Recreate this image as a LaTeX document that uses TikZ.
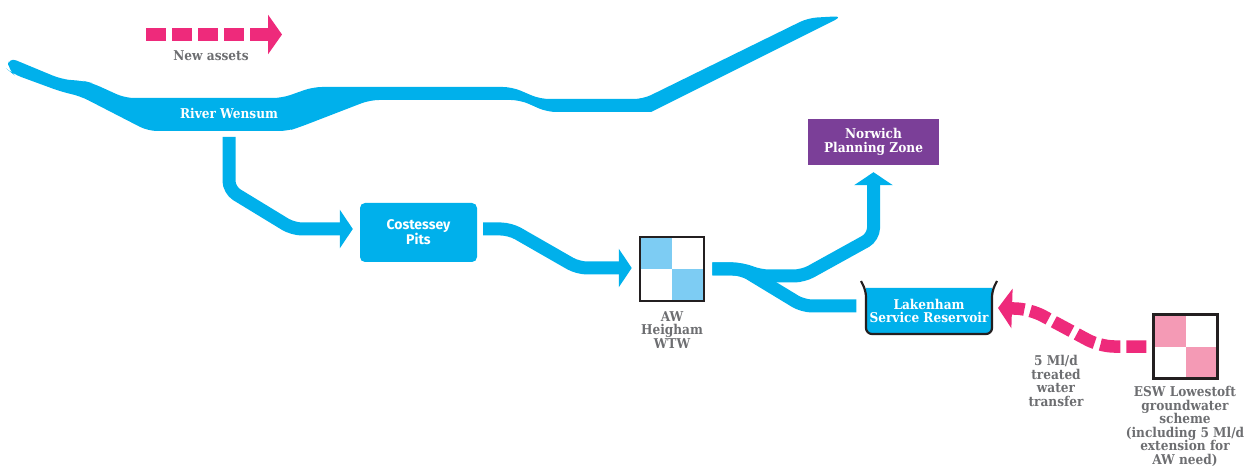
\documentclass[tikz,border=0pt]{standalone}
\usepackage{fontspec}
\setmainfont{DejaVu Serif}[FakeStretch=0.9]
\newfontfamily\sansf{Fira Sans}
\usetikzlibrary{arrows.meta}
\definecolor{wblue}{HTML}{00B0EB}
\definecolor{lblue}{HTML}{7DCCF3}
\definecolor{npurple}{HTML}{7B3F98}
\definecolor{npink}{HTML}{EE2A7B}
\definecolor{lpink}{HTML}{F49AB5}
\definecolor{tgray}{HTML}{6D6E71}
\definecolor{kline}{HTML}{231F20}
\begin{document}
\begin{tikzpicture}[x=1pt,y=-1pt,
 lab/.style={font=\bfseries\fontsize{13.5}{13.6}\selectfont, align=center, inner sep=0pt},
 wlab/.style={lab, text=white},
 glab/.style={lab, text=tgray},
 flow/.style={draw=wblue, line width=13pt, rounded corners=9pt, -{Triangle[width=38pt,length=13pt]}},
 pipe/.style={draw=wblue, line width=13pt, rounded corners=9pt},
 newasset/.style={draw=npink, line width=12.5pt, dash pattern=on 20pt off 6pt, rounded corners=14pt, -{Triangle[width=39pt,length=14pt]}},
 wtw/.style={minimum size=64pt, inner sep=0pt, draw=kline, line width=2.5pt,
   path picture={\fill[#1] (path picture bounding box.north west) rectangle (path picture bounding box.center);
                 \fill[#1] (path picture bounding box.center) rectangle (path picture bounding box.south east);}},
 pitbox/.style={fill=wblue, rounded corners=5pt, minimum width=117pt, minimum height=59pt, inner sep=0pt, text=white, align=center, font=\sansf\bfseries\fontsize{14}{15}\selectfont},
 zonebox/.style={fill=npurple, minimum width=131pt, minimum height=46pt, inner sep=0pt, wlab}
]
\useasboundingbox (0,0) rectangle (1245,470);

% River
\fill[wblue, rounded corners=9pt] (8,57) -- (61,79) -- (70,80) -- (84,81) -- (92,83) -- (125,98) -- (282,98) -- (313,87) -- (512,87) -- (540,99) -- (643,99) -- (808,18) -- (843,16) [sharp corners] -- (651,112) [rounded corners=9pt] -- (547,112) -- (520,100) -- (370,100) -- (300,127) -- (288,131) -- (148,131) -- (80,96) -- (62,92) -- (13,74) -- (8,70) -- cycle;
\node[wlab, anchor=base] (rw) at (229,119) {River Wensum};

% legend
\coordinate (na1) at (146,34.5);
\coordinate (na2) at (282,34.5);
\draw[newasset, rounded corners=0pt] (na1) -- (na2);
\node[glab, anchor=base] (nal) at (211,61) {New assets};

% nodes
\node[pitbox] (cp) at (418.5,232.5) {Costessey\\Pits};
\node[wtw=lblue] (aw) at (672,269) {};
\node[glab, anchor=north] (awl) at (672,311) {AW\\Heigham\\WTW};
\node[zonebox] (npz) at (873.5,142) {Norwich\\Planning Zone};

% Lakenham reservoir
\fill[wblue] (866,288) [rounded corners=6pt] -- (866,334) -- (992,334) [sharp corners] -- (992,288) -- cycle;
\draw[kline, line width=2.2pt, rounded corners=6pt] (861,281) -- (866,291) -- (866,334) -- (992,334) -- (992,291) -- (997,281);
\node[wlab] (lsr) at (929,311) {Lakenham\\Service Reservoir};

\node[wtw=lpink] (esw) at (1185.5,346.5) {};
\node[glab, anchor=north] (eswl) at (1185,386) {ESW Lowestoft\\groundwater\\scheme\\(including 5 Ml/d\\extension for\\AW need)};
\node[glab, anchor=north] (trl) at (1056,355) {5 Ml/d\\treated\\water\\transfer};

% flows
\coordinate (out) at (229,137);
\draw[flow] (out) -- (229,190) -- (293,229) -- ([xshift=-7pt]cp.west |- 0,229);
\draw[flow] ([xshift=6pt]cp.east |- 0,229) -- (510,229) -- (578,268) -- ([xshift=-7pt]aw.west |- 0,268);
\draw[pipe] ([xshift=7pt]aw.east) -- (742,269) -- (803,306) -- ([xshift=-13pt]lsr.west |- 0,306);
\draw[flow] ([xshift=7pt]aw.east) -- (742,269) -- (760,276) -- (803,276) -- (873.5,237) -- ([yshift=-7pt]npz.south);
\draw[newasset] ([xshift=-6pt]esw.west) -- (1100,346.5) -- (1030,309) -- (998,308);
\end{tikzpicture}
\end{document}
